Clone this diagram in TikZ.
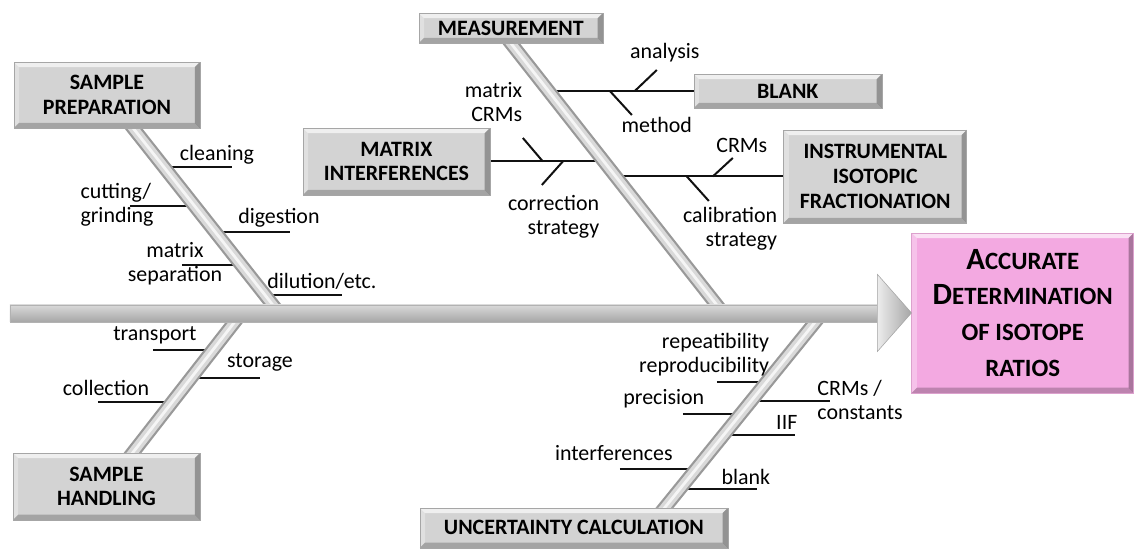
\documentclass[tikz,border=0pt]{standalone}
\usepackage{fontspec}
\setmainfont{Carlito}
\usetikzlibrary{positioning,calc}
\definecolor{fbface}{HTML}{D3D3D3}
\definecolor{fbpink}{HTML}{F3A9E1}
\definecolor{fbline}{HTML}{111111}
\pgfdeclarelayer{paper}
\pgfdeclarelayer{ribs}
\pgfdeclarelayer{bones}
\pgfsetlayers{paper,ribs,bones,main}
\newcommand{\initcap}[1]{{\fontsize{22}{25}\selectfont #1}}
\tikzset{
  bevel/.style={path picture={
      \path (path picture bounding box.north west) coordinate (pnw)
            (path picture bounding box.north east) coordinate (pne)
            (path picture bounding box.south east) coordinate (pse)
            (path picture bounding box.south west) coordinate (psw);
      \fill[white,opacity=.65] (pnw) -- (pne) -- ([shift={(-1.3mm,-1.3mm)}]pne) -- ([shift={(1.3mm,-1.3mm)}]pnw) -- cycle;
      \fill[white,opacity=.3] (pnw) -- ([shift={(1.3mm,-1.3mm)}]pnw) -- ([shift={(1.3mm,1.3mm)}]psw) -- (psw) -- cycle;
      \fill[black,opacity=.22] (psw) -- ([shift={(1.3mm,1.3mm)}]psw) -- ([shift={(-1.3mm,1.3mm)}]pse) -- (pse) -- cycle;
      \fill[black,opacity=.3] (pse) -- ([shift={(-1.3mm,1.3mm)}]pse) -- ([shift={(-1.3mm,-1.3mm)}]pne) -- (pne) -- cycle;
  }},
  cause/.style={bevel,fill=fbface,draw=gray!70,inner sep=0pt,align=center,
    font=\fontsize{15.6}{17.5}\selectfont\bfseries},
  effect/.style={bevel,fill=fbpink,draw=fbpink!80!gray,inner sep=0pt,align=center,
    font=\fontsize{17.7}{25.5}\selectfont\bfseries},
  bone/.style={line width=.35cm,draw=gray!80,
    postaction={draw=gray!30,line width=.24cm},
    postaction={draw=white!92!gray,line width=.07cm}},
  rib/.style={line width=.05cm,draw=fbline},
  subcause/.style={inner sep=1pt,align=center}
}

\begin{document}
\begin{tikzpicture}[x=0.025cm,y=-0.025cm,font=\fontsize{15.6}{17}\selectfont]
  \begin{pgfonlayer}{paper}
    \path[use as bounding box,fill=white] (0,0) rectangle (1134,540);
  \end{pgfonlayer}

  % main causes
  \node[cause,minimum width=4.65cm,minimum height=1.65cm] (prep) at (107,95) {SAMPLE\\PREPARATION};
  \node[cause,minimum width=4.6cm,minimum height=.75cm] (meas) at (511,28) {MEASUREMENT};
  \node[cause,minimum width=4.675cm,minimum height=1.675cm] (matrix) at (396.5,161.5) {MATRIX\\INTERFERENCES};
  \node[cause,minimum width=4.7cm,minimum height=.85cm] (blank) at (788,91) {BLANK};
  \node[cause,minimum width=4.575cm,minimum height=2.325cm] (instr) at (875.5,176.5) {INSTRUMENTAL\\ISOTOPIC\\FRACTIONATION};
  \node[cause,minimum width=4.675cm,minimum height=1.675cm] (hand) at (106.5,486.5) {SAMPLE\\HANDLING};
  \node[cause,minimum width=7.7cm,minimum height=1cm] (uncert) at (574,528) {UNCERTAINTY CALCULATION};
  \node[effect,minimum width=5.55cm,minimum height=4cm] (outcome) at (1023,313)
    {\initcap{A}CCURATE\\\initcap{D}ETERMINATION\\OF ISOTOPE\\RATIOS};

  % spine
  \coordinate (tail) at (10,314);
  \coordinate (jhand) at (241,314);
  \coordinate (jprep) at (280,314);
  \coordinate (jmeas) at (724,314);
  \coordinate (junc) at (822,314);
  \coordinate (mfoot) at (503,33);
  \coordinate (ufoot) at (655,520);
  \shade[top color=gray!30,middle color=white,bottom color=gray!70,draw=gray!60]
    ($(tail)+(0,-9)$) rectangle ($(outcome.west)+(-32,9)$);
  \shade[left color=gray!15,right color=gray!70,draw=gray!70]
    ($(outcome.west)+(-34,-38.5)$) -- (outcome.west) -- ($(outcome.west)+(-34,38.5)$) -- cycle;

  \begin{pgfonlayer}{bones}
    \draw[bone] (prep.center) -- (jprep);
    \draw[bone] (mfoot) -- (jmeas);
    \draw[bone] (hand.center) -- (jhand);
    \draw[bone] (ufoot) -- (junc);
  \end{pgfonlayer}

  \begin{pgfonlayer}{ribs}
    \path (mfoot) -- (jmeas) coordinate[pos=.206] (mb1) coordinate[pos=.457] (mb2) coordinate[pos=.511] (mb3);
    \draw[rib] (blank.west) -- (blank.west -| mb1);
    \draw[rib] (matrix.east) -- (matrix.east -| mb2);
    \draw[rib] (instr.west) -- (instr.west -| mb3);
    \foreach \xa/\ya/\xb/\yb in {523/138/543/161.5, 542/185/563/161.5, 610/91/632/115,
        635/91/657/70, 687/176.5/709/201, 713/176.5/733/158}
      \draw[rib] (\xa,\ya) -- (\xb,\yb);
    % underlines of the sub-causes
    \foreach \xa/\xb/\y in {164/232/167, 130/195/206, 215/290/232, 182/241/265, 265/342/295,
        153/213/350, 191/260/378, 98/172/402,
        717/767/382, 683/741/414, 752/830/401, 724/795/435, 620/697/469, 680/757/489}
      \draw[rib] (\xa,\y) -- (\xb,\y);
  \end{pgfonlayer}

  % sub-causes
  \node[subcause] (cleaning) at (217,155) {cleaning};
  \node[subcause,align=left] (cutting) at (117,205) {cutting/\\grinding};
  \node[subcause] (digestion) at (279,218) {digestion};
  \node[subcause] (matsep) at (175,264) {matrix\\separation};
  \node[subcause] (dilution) at (322,281) {dilution/etc.};
  \node[subcause] (transport) at (155,335) {transport};
  \node[subcause] (storage) at (260,363) {storage};
  \node[subcause] (collection) at (106,388) {collection};
  \node[subcause,align=right,anchor=east] (repeat) at (771,355) {repeatibility\\reproducibility};
  \node[subcause] (precision) at (664,399) {precision};
  \node[subcause,align=left,anchor=west] (crmconst) at (816,400) {CRMs /\\constants};
  \node[subcause] (iif) at (787,423) {IIF};
  \node[subcause] (interf) at (614,453) {interferences};
  \node[subcause] (blankitem) at (746,477) {blank};
  \node[subcause] (analysis) at (665,53) {analysis};
  \node[subcause] (method) at (657,125) {method};
  \node[subcause,align=right,anchor=east] (matcrm) at (524,102) {matrix\\CRMs};
  \node[subcause,align=right,anchor=east] (corr) at (601,217) {correction\\strategy};
  \node[subcause] (instcrm) at (742,145) {CRMs};
  \node[subcause,align=right,anchor=east] (calib) at (779,229) {calibration\\strategy};
\end{tikzpicture}
\end{document}
